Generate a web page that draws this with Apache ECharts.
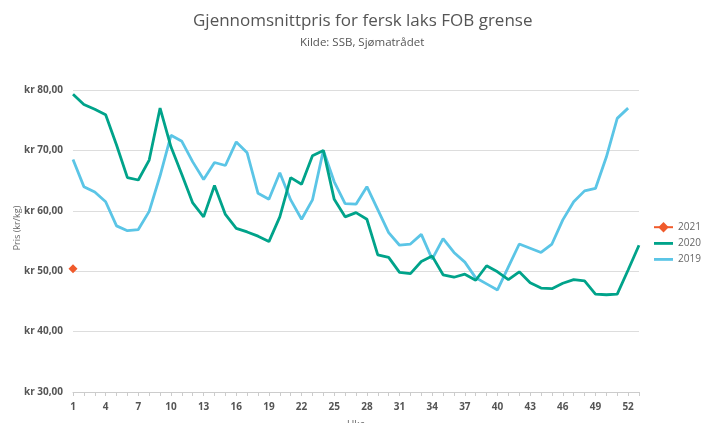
<!DOCTYPE html>
<html>
<head>
<meta charset="utf-8">
<script src="https://cdn.jsdelivr.net/npm/echarts@6/dist/echarts.min.js"></script>
<style>html,body{margin:0;padding:0;background:#fff}#c{width:702px;height:423px}</style>
</head>
<body>
<div id="c"></div>
<script>
var weeks = [];
for (var i = 1; i <= 53; i++) weeks.push(String(i));

var s2021 = [50.4];
var s2020 = [79.3,77.6,76.8,75.9,70.9,65.5,65.1,68.4,77.0,70.6,66.0,61.3,59.0,64.2,59.4,57.1,56.5,55.8,54.9,59.0,65.5,64.4,69.1,70.0,61.9,59.0,59.7,58.6,52.7,52.3,49.8,49.6,51.6,52.5,49.4,49.0,49.5,48.5,50.9,49.9,48.6,49.9,48.1,47.2,47.1,48.0,48.6,48.4,46.2,46.1,46.2,50.2,54.3];
var s2019 = [68.5,64.0,63.1,61.5,57.5,56.7,56.9,59.9,65.8,72.5,71.5,68.1,65.2,68.0,67.5,71.4,69.6,62.9,61.9,66.3,61.8,58.6,61.8,70.0,64.8,61.2,61.1,64.0,60.2,56.4,54.3,54.5,56.1,52.0,55.4,53.1,51.5,48.9,47.9,46.9,50.7,54.5,53.8,53.1,54.5,58.5,61.5,63.3,63.7,68.9,75.3,77.0];

var titleText = 'Gjennomsnittpris for fersk laks FOB grense';
var subText = 'Kilde: SSB, Sjømatrådet';
var lineIcon = 'path://M0 0H20V3H0Z';

var chart = echarts.init(document.getElementById('c'));
chart.setOption({
  animation: false,
  textStyle: {fontFamily: 'Open Sans'},
  title: [
    {text: titleText, left: 188, top: 8,
     textStyle: {fontFamily: 'Open Sans', fontSize: 17, fontWeight: 'normal', color: '#555'}},
    {text: subText, left: 295, top: 32,
     textStyle: {fontFamily: 'Open Sans', fontSize: 11.5, fontWeight: 'normal', color: '#555'}}
  ],
  legend: {
    orient: 'vertical', left: 648, top: 217, itemGap: 6, itemWidth: 19, itemHeight: 13,
    data: [
      {name: '2021'},
      {name: '2020', icon: lineIcon},
      {name: '2019', icon: lineIcon}
    ],
    textStyle: {fontFamily: 'Open Sans', fontSize: 10, color: '#666'}
  },
  grid: {left: 73, right: 63, top: 90, bottom: 31, containLabel: false, outerBoundsMode: 'none'},
  xAxis: {
    type: 'category', data: weeks, boundaryGap: false,
    name: 'Uke', nameLocation: 'middle', nameGap: 28, nameMoveOverlap: false,
    nameTextStyle: {fontSize: 10, color: '#666'},
    axisLine: {lineStyle: {color: '#ccc'}},
    axisTick: {interval: 0, length: 4, lineStyle: {color: '#ccc'}},
    axisLabel: {interval: 2, fontWeight: 'bold', fontSize: 10, color: '#555', margin: 10}
  },
  yAxis: {
    type: 'value', min: 30, max: 80, interval: 10,
    name: 'Pris (kr/kg)', nameLocation: 'middle', nameGap: 51, nameMoveOverlap: false,
    nameTextStyle: {fontSize: 9, color: '#666', padding: [0, 0, 0, 26]},
    axisLine: {show: false}, axisTick: {show: false},
    splitLine: {lineStyle: {color: '#ddd'}},
    axisLabel: {
      fontWeight: 'bold', fontSize: 10, color: '#555', margin: 10,
      formatter: function (v) { return 'kr ' + v.toFixed(2).replace('.', ','); }
    }
  },
  series: [
    {name: '2019', type: 'line', data: s2019, symbol: 'none', lineStyle: {width: 2.8, color: '#5BC5E6'}, itemStyle: {color: '#5BC5E6'}},
    {name: '2020', type: 'line', data: s2020, symbol: 'none', lineStyle: {width: 2.8, color: '#00A38A'}, itemStyle: {color: '#00A38A'}},
    {name: '2021', type: 'line', data: s2021, symbol: 'diamond', symbolSize: 9, lineStyle: {width: 2.8, color: '#F05A2B'}, itemStyle: {color: '#F05A2B'}}
  ]
});
</script>
</body>
</html>
